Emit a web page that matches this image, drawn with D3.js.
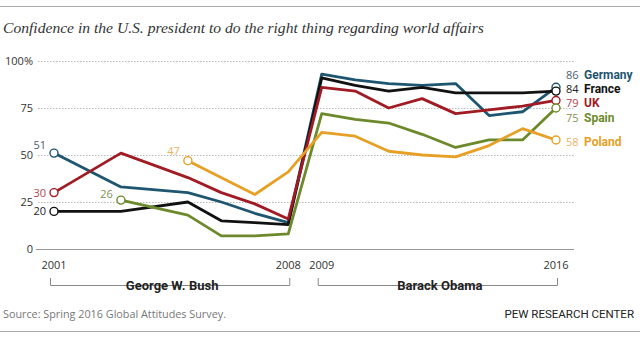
<!DOCTYPE html>
<html>
<head>
<meta charset="utf-8">
<script src="https://cdn.jsdelivr.net/npm/d3@7"></script>
<style>
  body { margin: 0; background: #fff; }
  svg { display: block; }
</style>
</head>
<body>
<div id="chart"></div>
<script>
// Data
const countries = ["Germany", "France", "UK", "Spain", "Poland"];
const colors = ["#1e5670", "#111111", "#a11b24", "#6c8a2b", "#e6a026"];
const labelColors = ["#4a6270", "#222222", "#b0464c", "#7f8f55", "#e8b566"];

const germanyYears = [2001, 2003, 2005, 2006, 2007, 2008, 2009, 2010, 2011, 2012, 2013, 2014, 2015, 2016];
const germanyVals  = [51, 33, 30, 25, 19, 14, 93, 90, 88, 87, 88, 71, 73, 86];
const franceYears  = [2001, 2003, 2005, 2006, 2007, 2008, 2009, 2010, 2011, 2012, 2013, 2014, 2015, 2016];
const franceVals   = [20, 20, 25, 15, 14, 13, 91, 87, 84, 86, 83, 83, 83, 84];
const ukYears      = [2001, 2003, 2005, 2006, 2007, 2008, 2009, 2010, 2011, 2012, 2013, 2014, 2015, 2016];
const ukVals       = [30, 51, 38, 30, 24, 16, 86, 84, 75, 80, 72, 74, 76, 79];
const spainYears   = [2003, 2005, 2006, 2007, 2008, 2009, 2010, 2011, 2012, 2013, 2014, 2015, 2016];
const spainVals    = [26, 18, 7, 7, 8, 72, 69, 67, 61, 54, 58, 58, 75];
const polandYears  = [2005, 2007, 2008, 2009, 2010, 2011, 2012, 2013, 2014, 2015, 2016];
const polandVals   = [47, 29, 41, 62, 60, 52, 50, 49, 55, 64, 58];

const yTicks = [0, 25, 50, 75, 100];
const xTicks = [2001, 2008, 2009, 2016];
const presidents = [
  { name: "George W. Bush", from: 2001, to: 2008 },
  { name: "Barack Obama", from: 2009, to: 2016 }
];

const series = [
  { years: germanyYears, vals: germanyVals },
  { years: franceYears, vals: franceVals },
  { years: ukYears, vals: ukVals },
  { years: spainYears, vals: spainVals },
  { years: polandYears, vals: polandVals }
].map((s, i) => ({
  name: countries[i],
  color: colors[i],
  labelColor: labelColors[i],
  points: s.years.map((yr, j) => ({ year: yr, value: s.vals[j] }))
}));

const W = 640, H = 340;
const narrow = "'Liberation Sans Narrow', 'Arial Narrow', 'Roboto', sans-serif";
const sans = "'Open Sans', Arial, sans-serif";

const svg = d3.select("#chart").append("svg")
  .attr("width", W)
  .attr("height", H);

const x = d3.scaleLinear().domain([2001, 2016]).range([54, 556]);
const y = d3.scaleLinear().domain([0, 100]).range([249, 61]);

// top rule and bottom rule
svg.append("line").attr("x1", 0).attr("x2", W).attr("y1", 6.5).attr("y2", 6.5)
  .attr("stroke", "#aaa").attr("stroke-width", 1);
svg.append("line").attr("x1", 0).attr("x2", W).attr("y1", 331.5).attr("y2", 331.5)
  .attr("stroke", "#aaa").attr("stroke-width", 1);

// title
svg.append("text")
  .attr("x", 3)
  .attr("y", 33)
  .attr("font-family", "'Liberation Serif', Georgia, serif")
  .attr("font-style", "italic")
  .attr("font-size", 15.6)
  .attr("fill", "#333")
  .text("Confidence in the U.S. president to do the right thing regarding world affairs");

// gridlines
svg.selectAll(".grid")
  .data(yTicks.filter(d => d > 0))
  .enter().append("line")
  .attr("class", "grid")
  .attr("x1", 38)
  .attr("x2", 574)
  .attr("y1", d => y(d) + 0.5)
  .attr("y2", d => y(d) + 0.5)
  .attr("stroke", "#b8b8b8")
  .attr("stroke-dasharray", "1.5,1.5");

svg.append("line")
  .attr("x1", 36).attr("x2", 574)
  .attr("y1", y(0) + 0.5).attr("y2", y(0) + 0.5)
  .attr("stroke", "#999");

// y tick labels
svg.selectAll(".ylab")
  .data(yTicks)
  .enter().append("text")
  .attr("class", "ylab")
  .attr("x", 33)
  .attr("y", d => y(d) + 4)
  .attr("text-anchor", "end")
  .attr("font-family", sans)
  .attr("font-size", 11)
  .attr("fill", "#333")
  .text(d => d === 100 ? "100%" : d);

// x tick labels
svg.selectAll(".xlab")
  .data(xTicks)
  .enter().append("text")
  .attr("class", "xlab")
  .attr("x", d => x(d))
  .attr("y", 269)
  .attr("text-anchor", "middle")
  .attr("font-family", sans)
  .attr("font-size", 11)
  .attr("fill", "#333")
  .text(d => d);

// president brackets
presidents.forEach(p => {
  const x1 = x(p.from) - 4, x2 = x(p.to) + 2;
  svg.append("path")
    .attr("d", `M${x1 + 0.5},278 V285.5 H${x2 - 0.5} V278`)
    .attr("fill", "none")
    .attr("stroke", "#888");
  const t = svg.append("text")
    .attr("x", (x1 + x2) / 2 + 2)
    .attr("y", 290)
    .attr("text-anchor", "middle")
    .attr("font-family", narrow)
    .attr("font-weight", "bold")
    .attr("font-size", 13)
    .attr("fill", "#222")
    .text(p.name);
  const bb = t.node().getBBox();
  svg.insert("rect", "text")
    .attr("x", bb.x - 1)
    .attr("y", 281)
    .attr("width", bb.width + 2)
    .attr("height", 9)
    .attr("fill", "#fff");
});

// lines
const line = d3.line()
  .x(d => x(d.year))
  .y(d => y(d.value));

svg.selectAll(".series")
  .data(series)
  .enter().append("path")
  .attr("class", "series")
  .attr("d", d => line(d.points))
  .attr("fill", "none")
  .attr("stroke", d => d.color)
  .attr("stroke-width", 2.8)
  .attr("stroke-linejoin", "round");

// end circles (first and last point)
series.forEach(s => {
  const ends = [s.points[0], s.points[s.points.length - 1]];
  svg.selectAll(null)
    .data(ends)
    .enter().append("circle")
    .attr("cx", d => x(d.year))
    .attr("cy", d => y(d.value))
    .attr("r", 4)
    .attr("fill", "#fff")
    .attr("stroke", s.color)
    .attr("stroke-width", 1.4);
});

// start value labels
const startOffsets = { Germany: -8, France: 0, UK: 0, Spain: -6, Poland: -10 };
series.forEach(s => {
  const p = s.points[0];
  svg.append("text")
    .attr("x", x(p.year) - 8)
    .attr("y", y(p.value) + 4 + startOffsets[s.name])
    .attr("text-anchor", "end")
    .attr("font-family", sans)
    .attr("font-size", 11)
    .attr("fill", s.labelColor)
    .text(p.value);
});

// end labels
const endLabelY = { Germany: 75, France: 89, UK: 103, Spain: 118, Poland: 142 };
series.forEach(s => {
  const p = s.points[s.points.length - 1];
  const g = svg.append("text")
    .attr("x", 566)
    .attr("y", endLabelY[s.name] + 4);
  g.append("tspan")
    .attr("font-family", sans)
    .attr("font-size", 11)
    .attr("fill", s.labelColor)
    .text(p.value + " ");
  g.append("tspan")
    .attr("x", 584)
    .attr("font-family", narrow)
    .attr("font-size", 12)
    .attr("font-weight", "bold")
    .attr("fill", s.color)
    .text(s.name);
});

// footer
svg.append("text")
  .attr("x", 3)
  .attr("y", 318)
  .attr("font-family", sans)
  .attr("font-size", 10.8)
  .attr("fill", "#777")
  .text("Source: Spring 2016 Global Attitudes Survey.");

svg.append("text")
  .attr("x", 634)
  .attr("y", 318)
  .attr("text-anchor", "end")
  .attr("font-family", narrow)
  .attr("font-size", 11.5)
  .attr("fill", "#222")
  .text("PEW RESEARCH CENTER");
</script>
</body>
</html>
